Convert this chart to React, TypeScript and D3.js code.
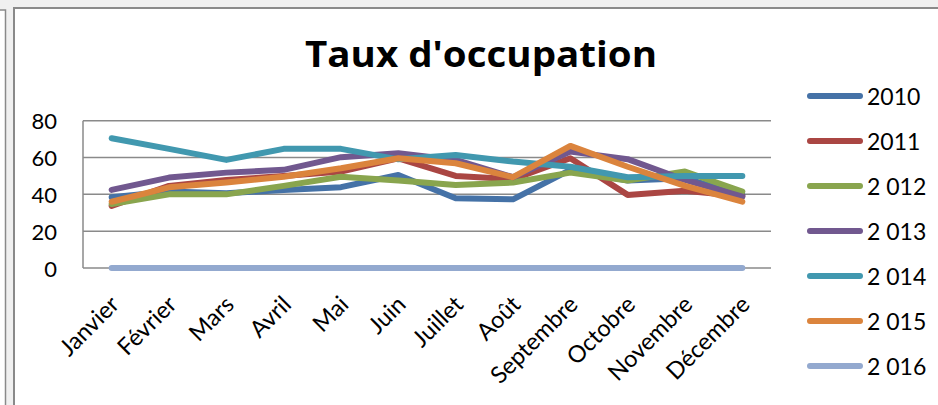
import React, { useEffect, useRef } from "react";
import * as d3 from "d3";

const months = [
  "Janvier", "Février", "Mars", "Avril", "Mai", "Juin",
  "Juillet", "Août", "Septembre", "Octobre", "Novembre", "Décembre",
];
const seriesNames = ["2010", "2011", "2 012", "2 013", "2 014", "2 015", "2 016"];
const s2010 = [38.5, 41.5, 40.6, 42.4, 43.9, 50.5, 37.9, 37.3, 53.3, 47.5, 48.7, 39.7];
const s2011 = [33.7, 44.6, 47.8, 50, 52.4, 59.6, 50, 48.2, 59.6, 39.7, 42, 39];
const s2012 = [34.8, 40, 40, 44.6, 49.6, 47.5, 45.1, 46.4, 51.8, 47.5, 52.4, 41.5];
const s2013 = [42.4, 49.1, 51.8, 53.3, 60.2, 62.3, 58.7, 49.3, 63.2, 59.1, 47.8, 38.8];
const s2014 = [70.5, 64.7, 58.7, 64.7, 64.7, 59, 61.4, 57.8, 55, 49.3, 50, 50];
const s2015 = [36, 43.8, 46.4, 49.6, 54.2, 59.6, 56.9, 49.3, 66.3, 55, 44.6, 36];
const s2016 = [0, 0, 0, 0, 0, 0, 0, 0, 0, 0, 0, 0];
const yTicks = [0, 20, 40, 60, 80];
const colors = ["#4572A7", "#AA4643", "#89A54E", "#71588F", "#4198AF", "#DB843D", "#93A9CF"];

const FONT = "Lato, 'Open Sans', sans-serif";

export default function App() {
  const ref = useRef<SVGSVGElement | null>(null);

  useEffect(() => {
    if (!ref.current) return;
    const svg = d3.select(ref.current);
    svg.selectAll("*").remove();

    const W = 938;
    const H = 405;
    const plot = { left: 83, right: 771, top: 120.7, bottom: 268 };

    // background + frames
    svg.append("rect").attr("width", W).attr("height", H).attr("fill", "#f0f0f0");
    svg.append("rect").attr("x", -3).attr("y", 10).attr("width", 8.5).attr("height", 400)
      .attr("fill", "#ffffff").attr("stroke", "#8a8a8a").attr("stroke-width", 1.5);
    svg.append("rect").attr("x", 14).attr("y", 8).attr("width", 940).attr("height", 410)
      .attr("fill", "#ffffff").attr("stroke", "#8a8a8a").attr("stroke-width", 2);

    // title
    svg.append("text")
      .attr("x", 481).attr("y", 67)
      .attr("text-anchor", "middle")
      .attr("font-family", "'Open Sans', Lato, sans-serif")
      .attr("font-weight", 700).attr("font-size", 35)
      .attr("textLength", 352).attr("lengthAdjust", "spacingAndGlyphs")
      .attr("fill", "#000")
      .text("Taux d'occupation");

    const x = d3.scaleBand<string>().domain(months).range([plot.left, plot.right]);
    const y = d3.scaleLinear().domain([0, 80]).range([plot.bottom, plot.top]);
    const cx = (m: string) => (x(m) ?? 0) + x.bandwidth() / 2;

    // grid
    svg.append("g").selectAll("line").data(yTicks).join("line")
      .attr("x1", plot.left).attr("x2", plot.right)
      .attr("y1", (d) => y(d)).attr("y2", (d) => y(d))
      .attr("stroke", "#8a8a8a").attr("stroke-width", 1.5);
    svg.append("line")
      .attr("x1", plot.left).attr("x2", plot.left)
      .attr("y1", plot.top).attr("y2", plot.bottom)
      .attr("stroke", "#8a8a8a").attr("stroke-width", 1.5);

    // y labels
    svg.append("g").selectAll("text").data(yTicks).join("text")
      .attr("x", 57).attr("y", (d) => y(d) + 1)
      .attr("dy", "0.35em")
      .attr("text-anchor", "end")
      .attr("font-family", FONT).attr("font-size", 22)
      .text((d) => d);

    // x labels
    svg.append("g").selectAll("text").data(months).join("text")
      .attr("transform", (m) => `translate(${cx(m) + 9},${plot.bottom + 38}) rotate(-45)`)
      .attr("text-anchor", "end")
      .attr("font-family", FONT).attr("font-size", 23.5)
      .text((m) => m);

    // lines
    const allSeries = [s2010, s2011, s2012, s2013, s2014, s2015, s2016];
    const line = d3.line<number>()
      .x((_, i) => cx(months[i]))
      .y((d) => y(d));
    svg.append("g").selectAll("path").data(allSeries).join("path")
      .attr("d", (d) => line(d))
      .attr("fill", "none")
      .attr("stroke", (_, i) => colors[i])
      .attr("stroke-width", 6)
      .attr("stroke-linecap", "round")
      .attr("stroke-linejoin", "round");

    // legend
    const lg = svg.append("g").selectAll("g").data(seriesNames).join("g")
      .attr("transform", (_, i) => `translate(0,${96 + i * 45})`);
    lg.append("line")
      .attr("x1", 810).attr("x2", 860).attr("y1", 0).attr("y2", 0)
      .attr("stroke", (_, i) => colors[i])
      .attr("stroke-width", 6).attr("stroke-linecap", "round");
    lg.append("text")
      .attr("x", 867).attr("y", 1).attr("dy", "0.35em")
      .attr("font-family", FONT).attr("font-size", 23)
      .text((d) => d);
  }, []);

  return (
    <svg
      ref={ref}
      width={938}
      height={405}
      style={{ position: "absolute", left: 0, top: 0 }}
    />
  );
}
